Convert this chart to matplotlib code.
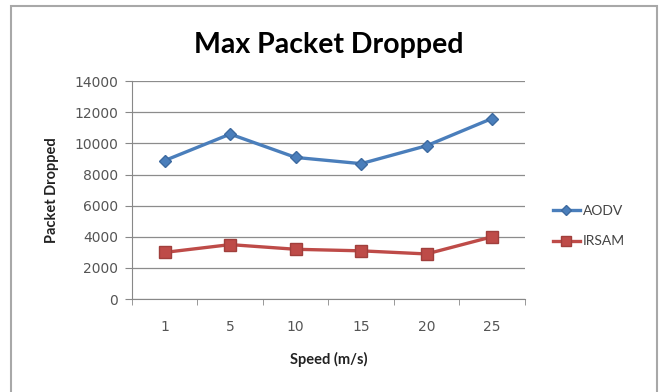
import matplotlib.pyplot as plt
import numpy as np

speeds = ["1", "5", "10", "15", "20", "25"]
aodv = [8900, 10600, 9100, 8700, 9850, 11600]
irsam = [3000, 3500, 3200, 3100, 2900, 4000]

plt.rcParams["font.family"] = ["Lato", "DejaVu Sans"]

fig = plt.figure(figsize=(6.6, 3.92), dpi=100)
ax = fig.add_axes([0.2, 0.237, 0.595, 0.556])

x = np.arange(len(speeds))
ax.plot(x, aodv, color="#4A7EBB", linewidth=2.4, marker="D", markersize=6,
        markerfacecolor="#4A7EBB", markeredgecolor="#3D6AA0", label="AODV")
ax.plot(x, irsam, color="#BE4B48", linewidth=2.4, marker="s", markersize=8.5,
        markerfacecolor="#BE4B48", markeredgecolor="#A03F3C", label="IRSAM")

ax.set_xlim(-0.5, len(speeds) - 0.5)
ax.set_ylim(0, 14000)
ax.set_yticks(range(0, 14001, 2000))
ax.set_xticks(x)
ax.set_xticklabels(speeds)
# category boundary ticks on the x axis
ax.set_xticks(np.arange(-0.5, len(speeds), 1), minor=True)
ax.tick_params(axis="x", which="major", length=0, pad=15, labelsize=10, colors="#555555")
ax.tick_params(axis="x", which="minor", length=4, color="#888888")
ax.tick_params(axis="y", length=5, pad=5, color="#888888", labelsize=10, colors="#555555")
for lbl in ax.get_xticklabels() + ax.get_yticklabels():
    lbl.set_fontfamily("DejaVu Sans")

ax.grid(axis="y", color="#8C8C8C", linewidth=0.9)
ax.set_axisbelow(True)
for side in ("top", "right"):
    ax.spines[side].set_visible(False)
for side in ("left", "bottom"):
    ax.spines[side].set_color("#888888")

ax.set_title("Max Packet Dropped", fontsize=20.5, fontweight="bold", pad=20)
ax.set_xlabel("Speed (m/s)", fontsize=10.5, fontweight="bold", labelpad=13, color="#222222")
ax.set_ylabel("Packet Dropped", fontsize=10.5, fontweight="bold", labelpad=11, color="#222222")

ax.legend(loc="center left", bbox_to_anchor=(1.071, 0.335), frameon=False,
          borderpad=0, borderaxespad=0, fontsize=10, handlelength=2.0,
          labelspacing=1.35, handletextpad=0.2, markerscale=0.8,
          labelcolor="#444444")

# outer chart border
fig.patches.append(plt.Rectangle((11 / 660, -0.02), 646 / 660, 1.02 - 6 / 392,
                                 transform=fig.transFigure, fill=False,
                                 edgecolor="#A8A8A8", linewidth=1.5))

fig.savefig("out.png", dpi=100)
